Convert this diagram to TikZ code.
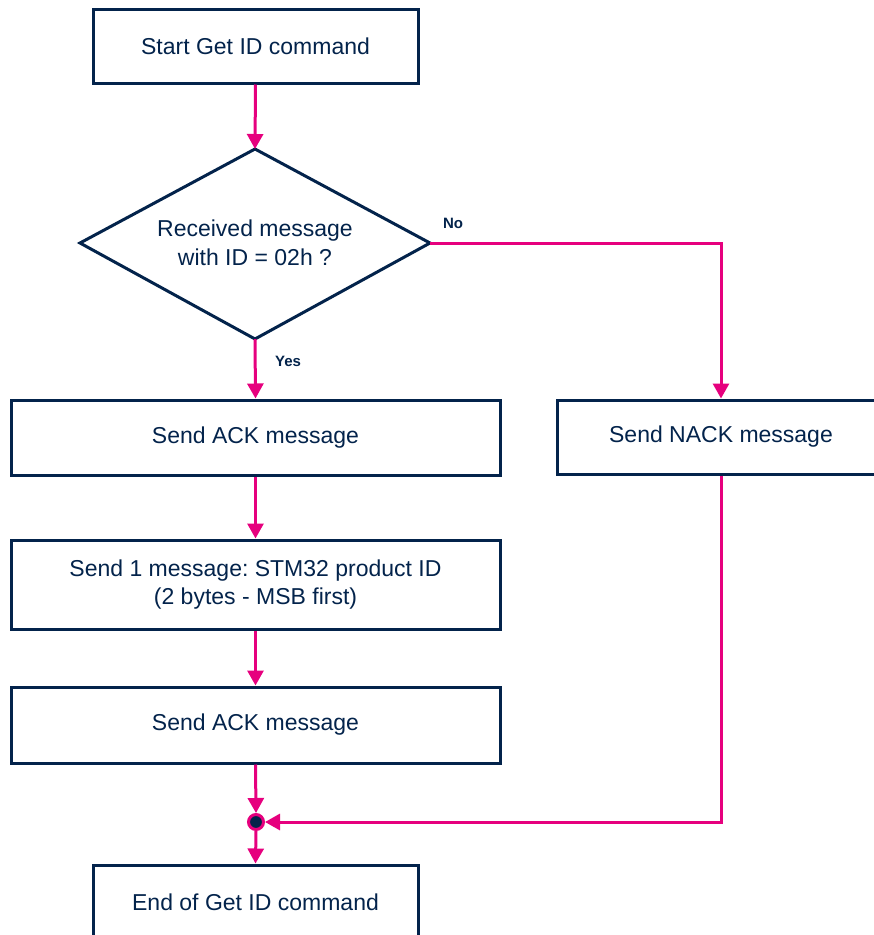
\documentclass[tikz,border=0pt]{standalone}
\usepackage{fontspec}
\setmainfont{Liberation Sans}
\usetikzlibrary{arrows.meta}
\definecolor{stnavy}{HTML}{03234B}
\definecolor{stpink}{HTML}{E6007E}
\frenchspacing
\tikzset{
  stbox/.style={draw=stnavy, line width=3pt, rectangle, inner sep=0pt, text=stnavy,
    align=center, font=\fontsize{23}{28.5}\selectfont},
  dectext/.style={text=stnavy, align=center, inner sep=0pt, font=\fontsize{23}{28.5}\selectfont},
  decshape/.style={draw=stnavy, line width=3pt, line join=miter},
  flow/.style={draw=stpink, line width=3pt, -{Triangle[length=15pt,width=16pt]}},
  lbl/.style={text=stnavy, font=\fontsize{15}{18}\selectfont\bfseries, inner sep=0pt},
  junc/.style={circle, draw=stpink, line width=3pt, fill=stnavy, minimum size=15pt, inner sep=0pt}
}
\begin{document}
\begin{tikzpicture}[x=1pt,y=-1pt]
\useasboundingbox (0,0) rectangle (874,935);
\node[stbox, minimum width=325pt, minimum height=74pt] (start) at (255.5,46) {Start Get ID command};
\coordinate (decN) at (255,149);
\coordinate (decS) at (255,339);
\coordinate (decE) at (430,243);
\coordinate (decW) at (80,243);
\draw[decshape] (decW) -- (decN) -- (decE) -- (decS) -- cycle;
\node[dectext] (dec) at (255,243) {Received message\\with ID = 02h ?};
\node[stbox, minimum width=489pt, minimum height=75pt] (ack1) at (255.5,437.5) {Send ACK message};
\node[stbox, minimum width=328pt, minimum height=74pt] (nack) at (721,437) {Send NACK message};
\node[stbox, minimum width=489pt, minimum height=89pt] (msg) at (255.5,584.5) {Send 1 message: STM32 product ID\\(2 bytes - MSB first)};
\node[stbox, minimum width=489pt, minimum height=76pt] (ack2) at (255.5,725) {Send ACK message};
\node[junc] (j) at (256,822) {};
\node[stbox, minimum width=325pt, minimum height=74pt] (end) at (255.5,902) {End of Get ID command};
\node[lbl] (no) at (453,223) {No};
\node[lbl] (yes) at (288,361) {Yes};
\coordinate (c1) at (721,243);
\coordinate (c2) at (721,822);
\draw[flow] (start.south) -- (decN);
\draw[flow] (decS) -- (ack1.north);
\draw[flow] (ack1.south) -- (msg.north);
\draw[flow] (msg.south) -- (ack2.north);
\draw[flow] (ack2.south) -- (j.north);
\draw[flow] (j.south) -- (end.north);
\draw[flow] (decE) -- (c1) -- (nack.north);
\draw[flow] (nack.south) -- (c2) -- (j.east);
\end{tikzpicture}
\end{document}
